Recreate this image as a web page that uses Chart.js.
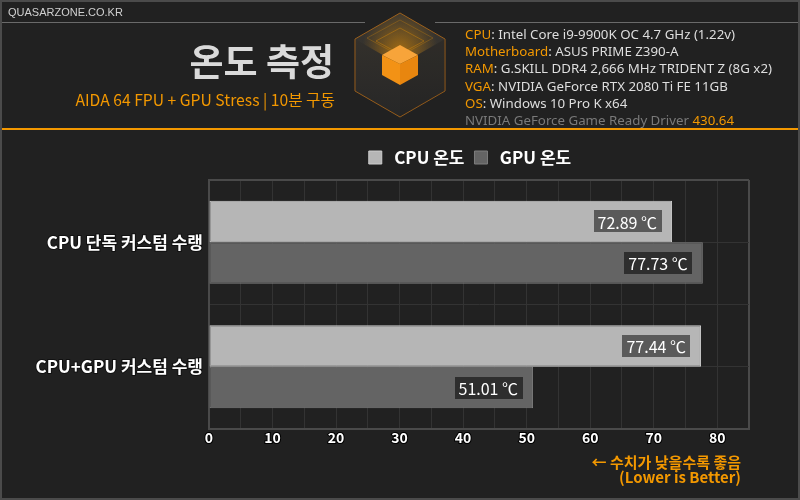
<!DOCTYPE html>
<html><head><meta charset="utf-8">
<script src="https://cdn.jsdelivr.net/npm/chart.js@4.4.1/dist/chart.umd.min.js"></script>
<style>
html,body{margin:0;padding:0;background:#212121;}
#wrap{position:relative;width:800px;height:500px;overflow:hidden;background:#212121;}
#chartBox{position:absolute;left:0;top:0;width:930px;height:500px;}
#frame{position:absolute;left:0;top:0;width:800px;height:500px;box-sizing:border-box;border:2px solid #4b4b4b;pointer-events:none;}
.t{position:absolute;white-space:nowrap;font-family:"Noto Sans","Noto Sans CJK KR",sans-serif;}
.o{color:#f39800;}
#site{left:8px;top:5px;font-size:11px;line-height:15px;color:#d0d0d0;font-family:"Liberation Sans",Arial,sans-serif;}
.hl{position:absolute;top:22px;height:1px;background:#6a6a6a;}
#oline{position:absolute;left:0;top:128px;width:800px;height:2px;background:#f39800;}
#title{right:466px;top:37px;font-size:37px;line-height:46px;font-weight:700;color:#dadada;font-family:"Noto Sans CJK KR",sans-serif;}
#sub{right:465px;top:90px;font-size:15.7px;line-height:20px;color:#f39800;font-family:"Noto Sans CJK KR",sans-serif;}
#info{left:465px;top:26px;font-size:13.3px;line-height:17.2px;color:#dedede;}
#info .g{color:#7a7a7a;}
#note{right:59px;top:455px;font-size:15px;line-height:14.5px;font-weight:700;color:#f39800;text-align:right;font-family:"Noto Sans CJK KR",sans-serif;}
#logo{position:absolute;left:350px;top:8px;}
</style>
</head><body>
<div id="wrap">
  <div id="chartBox"><canvas id="c"></canvas></div>
  <div class="t" id="site">QUASARZONE.CO.KR</div>
  <div class="hl" style="left:0;width:365px"></div>
  <div class="hl" style="left:435px;width:365px"></div>
  <div id="oline"></div>
  <div class="t" id="title">온도 측정</div>
  <div class="t" id="sub">AIDA 64 FPU + GPU Stress | 10분 구동</div>
  <div class="t" id="info">
    <div><span class="o">CPU</span>: Intel Core i9-9900K OC 4.7 GHz (1.22v)</div>
    <div><span class="o">Motherboard</span>: ASUS PRIME Z390-A</div>
    <div><span class="o">RAM</span>: G.SKILL DDR4 2,666 MHz TRIDENT Z (8G x2)</div>
    <div><span class="o">VGA</span>: NVIDIA GeForce RTX 2080 Ti FE 11GB</div>
    <div><span class="o">OS</span>: Windows 10 Pro K x64</div>
    <div class="g">NVIDIA GeForce Game Ready Driver <span class="o">430.64</span></div>
  </div>
  <svg id="logo" width="100" height="115" viewBox="350 8 100 115">
    <defs>
      <linearGradient id="hexg" x1="0" y1="0" x2="0" y2="1">
        <stop offset="0" stop-color="#3a3630"/>
        <stop offset="1" stop-color="#2a2a2a"/>
      </linearGradient>
      <radialGradient id="glow" cx="400" cy="50" r="38" gradientUnits="userSpaceOnUse">
        <stop offset="0" stop-color="#f39800" stop-opacity="0.55"/>
        <stop offset="1" stop-color="#f39800" stop-opacity="0"/>
      </radialGradient>
    </defs>
    <polygon points="400,13 445,39 445,91 400,117 355,91 355,39" fill="url(#hexg)" stroke="#9a5f1c" stroke-width="1"/>
    <polygon points="400,65 445,39 445,91 400,117" fill="#000" opacity="0.12"/>
    <polygon points="400,65 355,39 355,91 400,117" fill="#000" opacity="0.05"/>
    <polygon points="400,13 445,39 400,65 355,39" fill="url(#glow)"/>
    <polygon points="400,20 433,38 400,56 367,38" fill="none" stroke="#f39800" stroke-opacity="0.25"/>
    <polygon points="400,28 424,41 400,54 376,41" fill="none" stroke="#f39800" stroke-opacity="0.35"/>
    <polygon points="400,45 418,55 400,64 382,55" fill="#f7a43a"/>
    <polygon points="382,55 400,64 400,85 382,75" fill="#f39215"/>
    <polygon points="400,64 418,55 418,75 400,85" fill="#e8860f"/>
  </svg>
  <div class="t" id="note">← 수치가 낮을수록 좋음<br>(Lower is Better)</div>
  <div id="frame"></div>
</div>
<script>
const categories = ['CPU 단독 커스텀 수랭', 'CPU+GPU 커스텀 수랭'];
const seriesNames = ['CPU 온도', 'GPU 온도'];
const cpuTemps = [72.89, 77.44];
const gpuTemps = [77.73, 51.01];
const axisMin = 0, axisMax = 85, gridStep = 5, labelStep = 10;
const unit = ' ℃';

const KFONT = '"Noto Sans CJK KR", "Noto Sans", sans-serif';

const valueBoxes = {
  id: 'valueBoxes',
  afterDatasetsDraw(chart) {
    const ctx = chart.ctx;
    const boxColors = ['#5a5a5a', '#2e2e2e'];
    ctx.save();
    ctx.font = '16px ' + KFONT;
    ctx.textBaseline = 'middle';
    ctx.textAlign = 'left';
    chart.data.datasets.forEach((ds, di) => {
      const meta = chart.getDatasetMeta(di);
      meta.data.forEach((bar, i) => {
        const txt = ds.data[i].toFixed(2) + unit;
        const w = ctx.measureText(txt).width + 8;
        const h = 22;
        const right = bar.x - 11;
        const left = right - w;
        ctx.fillStyle = boxColors[di];
        ctx.fillRect(Math.round(left), Math.round(bar.y - h / 2), Math.round(w), h);
        ctx.fillStyle = '#ffffff';
        ctx.fillText(txt, left + 4, bar.y + 1);
      });
    });
    ctx.restore();
  }
};

new Chart(document.getElementById('c'), {
  type: 'bar',
  data: {
    labels: categories,
    datasets: [
      { label: seriesNames[0], data: cpuTemps, backgroundColor: '#b6b6b6', borderColor: '#cdcdcd', borderWidth: 1, borderSkipped: false, categoryPercentage: 0.667, barPercentage: 1.0 },
      { label: seriesNames[1], data: gpuTemps, backgroundColor: '#646464', borderColor: '#7e7e7e', borderWidth: 1, borderSkipped: false, categoryPercentage: 0.667, barPercentage: 1.0 }
    ]
  },
  options: {
    indexAxis: 'y',
    responsive: true,
    maintainAspectRatio: false,
    animation: false,
    layout: { padding: { left: 10, right: 0, top: 139, bottom: 41 } },
    plugins: {
      legend: {
        position: 'top',
        labels: {
          color: '#ffffff',
          font: { family: KFONT, size: 17, weight: 'bold' },
          boxWidth: 13, boxHeight: 13, padding: 10,
          generateLabels: chart => Chart.defaults.plugins.legend.labels.generateLabels(chart).map(l => Object.assign(l, { text: ' ' + l.text }))
        }
      },
      tooltip: { enabled: false }
    },
    scales: {
      x: {
        min: axisMin, max: axisMax,
        ticks: {
          stepSize: gridStep, autoSkip: false, maxRotation: 0,
          color: '#ffffff', font: { family: KFONT, size: 14, weight: 'bold' },
          textStrokeColor: '#000000', textStrokeWidth: 2, padding: 0,
          callback: v => (v % labelStep === 0 ? String(v) : '')
        },
        grid: {
          color: c => (c.tick && c.tick.value === axisMax ? '#4a4a4a' : '#333333'),
          lineWidth: c => (c.tick && c.tick.value === axisMax ? 2 : 1),
          drawTicks: false
        },
        border: { color: '#4a4a4a', width: 2 },
        afterFit: s => { s.height = 30; }
      },
      x2: {
        type: 'linear', position: 'top', min: axisMin, max: axisMax,
        ticks: { display: false },
        grid: { display: false },
        border: { display: false },
        afterFit: s => { s.height = 4; }
      },
      y: {
        offset: true,
        ticks: {
          color: '#ffffff', font: { family: KFONT, size: 17, weight: 'bold' },
          textStrokeColor: '#111111', textStrokeWidth: 2, padding: 6
        },
        grid: {
          offset: true, drawTicks: false,
          color: c => (c.index === 0 ? '#4a4a4a' : '#333333'),
          lineWidth: c => (c.index === 0 ? 2 : 1)
        },
        border: { color: '#4a4a4a', width: 2 },
        afterFit: s => { s.width = 199; }
      },
      y2: {
        type: 'category', position: 'right', offset: true,
        ticks: { display: false },
        grid: { offset: false, drawTicks: false, color: '#333333' },
        border: { display: false },
        afterFit: s => { s.width = 181; }
      }
    }
  },
  plugins: [valueBoxes]
});
</script>
</body></html>
